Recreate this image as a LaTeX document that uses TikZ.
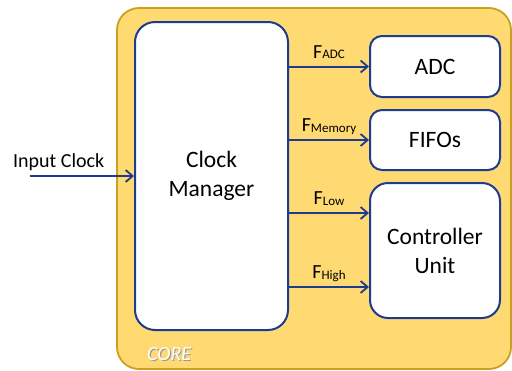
\documentclass[tikz,border=0pt]{standalone}
\usepackage{fontspec}
\setmainfont{Carlito}
\usepackage{xcolor}
\usetikzlibrary{arrows.meta, positioning}

\definecolor{coreyellow}{HTML}{FFDA72}
\definecolor{coregold}{HTML}{C9A020}
\definecolor{linkblue}{HTML}{1E3C8F}

% frequency label: big F, small name on the baseline
\newcommand{\freqlbl}[1]{F\raisebox{-0.5pt}{\fontsize{13}{13}\selectfont #1}}

\begin{document}
\begin{tikzpicture}[
  x=1pt, y=-1pt,
  core/.style  = {rectangle, rounded corners=22pt, fill=coreyellow,
                  draw=coregold, line width=1.8pt},
  blk/.style   = {rectangle, rounded corners=12pt, fill=white,
                  draw=linkblue, line width=2pt, align=center,
                  font=\fontsize{23.5}{29}\selectfont, text centered},
  arr/.style   = {-{Straight Barb[length=7pt, width=12pt, line width=1.8pt]},
                  draw=linkblue, line width=2pt},
  lbl/.style   = {font=\fontsize{20}{20}\selectfont, inner sep=0pt,
                  anchor=base}
]
\useasboundingbox (0,0) rectangle (512,370);

% ===================== CORE =====================
\node[core, minimum width=394pt, minimum height=361pt]
  (core) at (314,188.5) {};
\node[font=\fontsize{20}{20}\selectfont\itshape, text=gray!80, inner sep=0pt,
      anchor=base west]
  (coreshadow) at (148.2,361.2) {CORE};
\node[font=\fontsize{20}{20}\selectfont\itshape, text=white, inner sep=0pt,
      anchor=base west]
  (corelbl) at (147,360) {CORE};

% ===================== BLOCKS =====================
\node[blk, rounded corners=20pt, minimum width=153pt, minimum height=308pt]
  (mgr) at (211.5,176) {Clock\\Manager};

\node[blk, minimum width=130pt, minimum height=61pt]
  (adc) at (435,66.5) {ADC};
\node[blk, minimum width=130pt, minimum height=60pt]
  (fifo) at (435,140) {FIFOs};
\node[blk, rounded corners=18pt, minimum width=130pt, minimum height=135pt]
  (ctrl) at (435,250.5) {Controller\\Unit};

% ===================== INPUT =====================
\coordinate (clkin) at (30,176);
\node[lbl, anchor=base west] (inlbl) at (13,167.5) {Input Clock};
\draw[arr] (clkin) -- (clkin -| mgr.west);

% ===================== CLOCK OUTPUTS =====================
\draw[arr] (adc.west -| mgr.east) -- node[lbl, yshift=8.5pt]{\freqlbl{ADC}} (adc.west);
\draw[arr] (fifo.west -| mgr.east) -- node[lbl, yshift=8.5pt]{\freqlbl{Memory}} (fifo.west);
\draw[arr] ([yshift=37.5pt]ctrl.west -| mgr.east)
  -- node[lbl, yshift=8.5pt]{\freqlbl{Low}} ([yshift=37.5pt]ctrl.west);
\draw[arr] ([yshift=-36.5pt]ctrl.west -| mgr.east)
  -- node[lbl, yshift=8.5pt]{\freqlbl{High}} ([yshift=-36.5pt]ctrl.west);

\end{tikzpicture}
\end{document}
